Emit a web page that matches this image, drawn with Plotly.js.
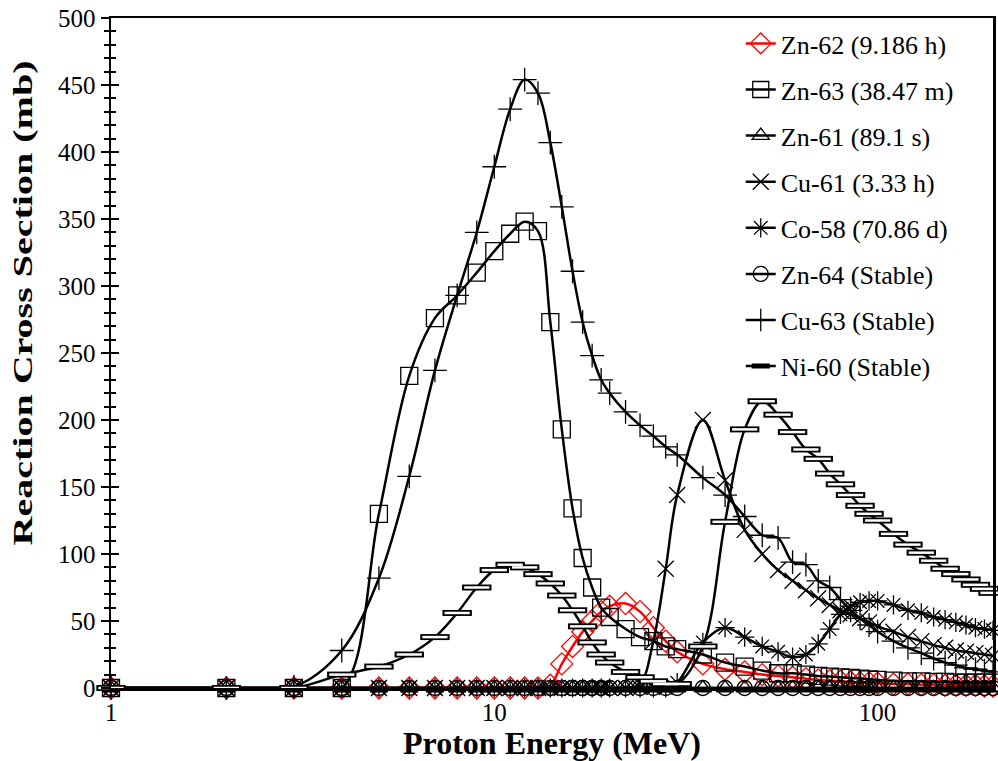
<!DOCTYPE html>
<html>
<head>
<meta charset="utf-8">
<script src="https://cdn.plot.ly/plotly-3.0.1.min.js"></script>
<style>html,body{margin:0;padding:0;background:#fff;}#chart{width:998px;height:761px;}</style>
</head>
<body>
<div id="chart"></div>
<script>
// Proton energy grid (MeV)
const energy = [1,2,3,4,5,6,7,8,9,10,11,12,13,14,15,16,17,18,19,20,22,24,26,28,30,35,40,45,50,55,60,65,70,75,80,85,90,95,100,110,120,130,140,150,160,170,180,190,200];

// Reaction cross sections (mb)
const zn62 = [0,0,0,0,0,0,0,0,0,0,0,0,0,2,18,31,42,50,57,61,63,57,45,35,27,18,14,12,10,9,8,7,6,5.5,5,4.5,4,4,3.5,3,3,2.5,2.5,2,2,2,2,1.5,1.5];
const zn63 = [0,0,0,0,130,233,276,293,310,326,339,348,341,273,193,134,97,75,60,53,44,38,35,31,29,25,19,16,13,11,11,10,9,8.5,8,7.5,7,6.5,6,5.5,5,5,4.5,4.5,4,4,4,4,4];
const zn61 = [0,0,0,0,0,0,0,0,0,0,0,0,0,0,0,0,0,0,0,0,0,0,0,0,0,0,0,0,0,0,0,0,0,0,0,0,0,0,0,0,0,0,0,0,0,0,0,0,0];
const cu61 = [0,0,0,0,0,0,0,0,0,0,0,0,0,0,0,0,0,0,0,0,0,3,35,89,144,200,155,118,100,88,80,73,67,62,58,55,52,49,46,42,38,35,32,30,28,27,26,25,24];
const co58 = [0,0,0,0,0,0,0,0,0,0,0,0,0,0,0,0,0,0,0,0,0,0,0,0,4,34,45,38,31,27,23,25,33,44,55,61,64,65,65,62,58,56,53,51,49,47,45,44,43];
const zn64 = [0,0,0,0,0,0,0,0,0,0,0,0,0,0,0,0,0,0,0,0,0,0,0,0,0,0,0,0,0,0,0,0,0,0,0,0,0,0,0,0,0,0,0,0,0,0,0,0,0];
const cu63 = [0,0,1,28,82,158,237,293,340,389,432,454,444,407,359,311,273,248,230,220,206,196,188,180,174,157,144,128,114,112,94,92,80,75,66,58,52,47,42,35,30,26,22,19,17,15,14,13,12];
const ni60 = [0,0,0,10,16,25,38,56,75,88,92,90,85,78,69,58,46,34,25,19,12,8,5,3,3,31,124,193,214,204,191,178,171,160,152,144,136,130,125,115,107,101,95,89,85,81,77,74,71];

const seriesNames = ["Zn-62 (9.186 h)","Zn-63 (38.47 m)","Zn-61 (89.1 s)","Cu-61 (3.33 h)","Co-58 (70.86 d)","Zn-64 (Stable)","Cu-63 (Stable)","Ni-60 (Stable)"];
const xTickVals = [1,10,100];
const xTickText = ["1","10","100"];

const FONT = "Liberation Serif, Times New Roman, serif";

function mk(name, y, symbol, color, size, lw){
  return {
    x: energy, y: y, name: name, type: "scatter", mode: "lines+markers",
    line: {shape: "spline", smoothing: 1, color: color, width: 2.5},
    marker: {symbol: symbol, size: size, color: color, line: {color: color, width: lw}},
    cliponaxis: false, legendgroup: name, hoverinfo: "x+y+name"
  };
}

const traces = [
  mk(seriesNames[0], zn62, "diamond-open", "#ff0000", 17, 1.3),
  mk(seriesNames[1], zn63, "square-open", "#000000", 17, 1.3),
  mk(seriesNames[2], zn61, "triangle-up-open", "#000000", 15, 1.3),
  mk(seriesNames[3], cu61, "x-thin-open", "#000000", 16, 1.3),
  mk(seriesNames[4], co58, "asterisk-open", "#000000", 16, 1.3),
  mk(seriesNames[5], zn64, "circle-open", "#000000", 15, 1.3),
  mk(seriesNames[6], cu63, "cross-thin-open", "#000000", 17, 1.3)
];
const ni = mk(seriesNames[7], ni60, "line-ew-open", "#000000", 21, 6);
ni.showlegend = false;
traces.push(ni);
// white interior for the Ni-60 dash markers (outlined bars)
traces.push({
  x: energy, y: ni60, type: "scatter", mode: "markers", showlegend: false,
  marker: {symbol: "line-ew-open", size: 18, color: "#ffffff", line: {color: "#ffffff", width: 2.5}},
  cliponaxis: false, hoverinfo: "skip"
});
// legend entry for Ni-60 (thick dash on a line)
traces.push({
  x: [null], y: [null], name: seriesNames[7], type: "scatter", mode: "lines+markers",
  line: {color: "#000000", width: 2.5},
  marker: {symbol: "line-ew-open", size: 13, color: "#000000", line: {color: "#000000", width: 5}},
  legendgroup: seriesNames[7], hoverinfo: "skip"
});
// dummy trace to make the overlay axis (inner half of crossing ticks) exist
traces.push({x: [1], y: [-100], yaxis: "y2", type: "scatter", mode: "markers", showlegend: false, marker: {opacity: 0}, hoverinfo: "skip"});

const layout = {
  width: 998, height: 761,
  margin: {l: 111, r: 5, t: 18, b: 73, pad: 0},
  paper_bgcolor: "#ffffff", plot_bgcolor: "#ffffff",
  font: {family: FONT, color: "#000000"},
  showlegend: true,
  legend: {
    x: 0.714, y: 0.997, xanchor: "left", yanchor: "top",
    font: {family: FONT, size: 26, color: "#000000"},
    bgcolor: "rgba(0,0,0,0)", tracegroupgap: 9.3, itemsizing: "trace"
  },
  xaxis: {
    type: "log", range: [0, Math.log10(200)],
    tickvals: xTickVals, ticktext: xTickText, ticks: "",
    showline: true, linecolor: "#000000", linewidth: 2.5, mirror: true,
    showgrid: false, zeroline: false,
    tickfont: {family: FONT, size: 25, color: "#000000"},
    title: {text: "<b>Proton Energy (MeV)</b>", font: {family: FONT, size: 32, color: "#000000"}, standoff: 4}
  },
  yaxis: {
    range: [0, 500], dtick: 50, tick0: 0,
    ticks: "outside", ticklen: 8, tickwidth: 2.5, tickcolor: "#000000",
    minor: {ticks: "outside", ticklen: 5, dtick: 10, tickwidth: 2, tickcolor: "#000000"},
    showline: true, linecolor: "#000000", linewidth: 2.5, mirror: true,
    showgrid: false, zeroline: false,
    tickfont: {family: FONT, size: 25, color: "#000000"},
    title: {text: "<b>Reaction Cross Section (mb)</b>", font: {family: FONT, size: 28, color: "#000000"}, standoff: 10}
  },
  yaxis2: {
    overlaying: "y", side: "left", range: [0, 500], dtick: 50, tick0: 0,
    ticks: "inside", ticklen: 8, tickwidth: 2.5, tickcolor: "#000000",
    minor: {ticks: "inside", ticklen: 5, dtick: 10, tickwidth: 2, tickcolor: "#000000"},
    showticklabels: false, showline: false, showgrid: false, zeroline: false
  }
};

Plotly.newPlot("chart", traces, layout, {displayModeBar: false, staticPlot: true}).then(function(gd){
  // the reference's vertical title is drawn elongated along its reading direction
  const t = gd.querySelector("text.ytitle");
  if (t) {
    const cx = parseFloat(t.getAttribute("x")), cy = parseFloat(t.getAttribute("y"));
    t.setAttribute("transform",
      "translate(-7,-50) rotate(-90," + cx + "," + cy + ") translate(" + cx + "," + cy + ") scale(1.43,1) translate(" + (-cx) + "," + (-cy) + ")");
  }
});
</script>
</body>
</html>
